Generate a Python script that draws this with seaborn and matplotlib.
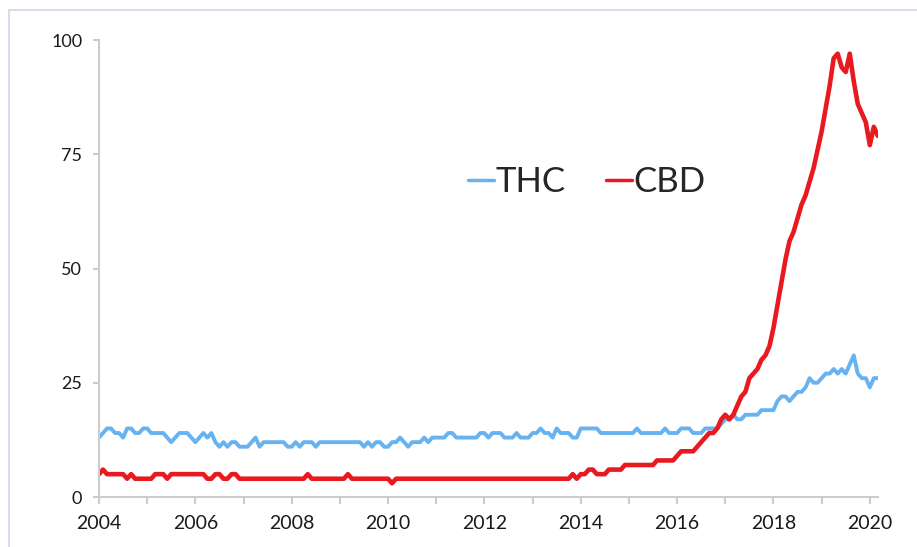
import numpy as np
import pandas as pd
import matplotlib.pyplot as plt
from matplotlib.lines import Line2D
import seaborn as sns

# monthly search interest, Jan 2004 - Mar 2020
thc = {
    2004: [13, 14, 15, 15, 14, 14, 13, 15, 15, 14, 14, 15],
    2005: [15, 14, 14, 14, 14, 13, 12, 13, 14, 14, 14, 13],
    2006: [12, 13, 14, 13, 14, 12, 11, 12, 11, 12, 12, 11],
    2007: [11, 11, 12, 13, 11, 12, 12, 12, 12, 12, 12, 11],
    2008: [11, 12, 11, 12, 12, 12, 11, 12, 12, 12, 12, 12],
    2009: [12, 12, 12, 12, 12, 12, 11, 12, 11, 12, 12, 11],
    2010: [11, 12, 12, 13, 12, 11, 12, 12, 12, 13, 12, 13],
    2011: [13, 13, 13, 14, 14, 13, 13, 13, 13, 13, 13, 14],
    2012: [14, 13, 14, 14, 14, 13, 13, 13, 14, 13, 13, 13],
    2013: [14, 14, 15, 14, 14, 13, 15, 14, 14, 14, 13, 13],
    2014: [15, 15, 15, 15, 15, 14, 14, 14, 14, 14, 14, 14],
    2015: [14, 14, 15, 14, 14, 14, 14, 14, 14, 15, 14, 14],
    2016: [14, 15, 15, 15, 14, 14, 14, 15, 15, 15, 15, 16],
    2017: [17, 17, 18, 17, 17, 18, 18, 18, 18, 19, 19, 19],
    2018: [19, 21, 22, 22, 21, 22, 23, 23, 24, 26, 25, 25],
    2019: [26, 27, 27, 28, 27, 28, 27, 29, 31, 27, 26, 26],
    2020: [24, 26, 26],
}
cbd = {
    2004: [5, 6, 5, 5, 5, 5, 5, 4, 5, 4, 4, 4],
    2005: [4, 4, 5, 5, 5, 4, 5, 5, 5, 5, 5, 5],
    2006: [5, 5, 5, 4, 4, 5, 5, 4, 4, 5, 5, 4],
    2007: [4, 4, 4, 4, 4, 4, 4, 4, 4, 4, 4, 4],
    2008: [4, 4, 4, 4, 5, 4, 4, 4, 4, 4, 4, 4],
    2009: [4, 4, 5, 4, 4, 4, 4, 4, 4, 4, 4, 4],
    2010: [4, 3, 4, 4, 4, 4, 4, 4, 4, 4, 4, 4],
    2011: [4, 4, 4, 4, 4, 4, 4, 4, 4, 4, 4, 4],
    2012: [4, 4, 4, 4, 4, 4, 4, 4, 4, 4, 4, 4],
    2013: [4, 4, 4, 4, 4, 4, 4, 4, 4, 4, 5, 4],
    2014: [5, 5, 6, 6, 5, 5, 5, 6, 6, 6, 6, 7],
    2015: [7, 7, 7, 7, 7, 7, 7, 8, 8, 8, 8, 8],
    2016: [9, 10, 10, 10, 10, 11, 12, 13, 14, 14, 15, 17],
    2017: [18, 17, 18, 20, 22, 23, 26, 27, 28, 30, 31, 33],
    2018: [37, 42, 47, 52, 56, 58, 61, 64, 66, 69, 72, 76],
    2019: [80, 85, 90, 96, 97, 94, 93, 97, 91, 86, 84, 82],
    2020: [77, 81, 79],
}
year_labels = [2004, 2006, 2008, 2010, 2012, 2014, 2016, 2018, 2020]
y_ticks = [0, 25, 50, 75, 100]


def to_frame(d, name):
    rows = []
    for yr, vals in d.items():
        for m, v in enumerate(vals):
            rows.append({'t': yr + m / 12, 'value': v, 'term': name})
    return pd.DataFrame(rows)


df = pd.concat([to_frame(thc, 'THC'), to_frame(cbd, 'CBD')], ignore_index=True)

sns.set_style('white')
plt.rcParams['font.family'] = ['Lato', 'DejaVu Sans']

fig = plt.figure(figsize=(9.17, 5.47), dpi=100)
ax = fig.add_axes([99 / 917, 50 / 547, 779 / 917, 457 / 547])

colors = {'THC': '#67b2f1', 'CBD': '#e8191f'}
sns.lineplot(data=df[df.term == 'THC'], x='t', y='value', color=colors['THC'],
             lw=2.8, ax=ax, label='THC')
sns.lineplot(data=df[df.term == 'CBD'], x='t', y='value', color=colors['CBD'],
             lw=3.3, ax=ax, label='CBD')

ax.set_xlim(2004, 2020.17)
ax.set_ylim(0, 100)
ax.set_xticks(year_labels)
ax.set_xticklabels([str(y) for y in year_labels])
ax.set_xticks(range(2004, 2021), minor=True)
ax.set_yticks(y_ticks)
ax.set_xlabel('')
ax.set_ylabel('')

for s in ['top', 'right']:
    ax.spines[s].set_visible(False)
for s in ['left', 'bottom']:
    ax.spines[s].set_color('#cccccc')
    ax.spines[s].set_linewidth(1.5)

ax.tick_params(axis='x', which='both', direction='out', length=5, width=1.5,
               color='#cccccc', labelsize=14, labelcolor='#1a1a1a', pad=8, bottom=True)
ax.tick_params(axis='y', which='major', direction='out', length=4, width=1.5,
               color='#cccccc', labelsize=13, labelcolor='#1a1a1a', pad=8, left=True)

leg = ax.legend(loc='center left', ncol=2, frameon=False,
                fontsize=25, handlelength=0.75, handletextpad=0.05,
                columnspacing=1.15, borderpad=0, borderaxespad=0)
for h in leg.get_lines():
    h.set_linewidth(2.5)
leg.set_bbox_to_anchor((468 / 917, 1 - 182 / 547), transform=fig.transFigure)

# light frame around the picture
fig.add_artist(Line2D([9 / 917, 1], [1 - 10 / 547, 1 - 10 / 547], color='#d5deed', lw=1.5))
fig.add_artist(Line2D([9 / 917, 9 / 917], [0, 1 - 10 / 547], color='#d5deed', lw=1.5))

fig.savefig('out.png', dpi=100)
